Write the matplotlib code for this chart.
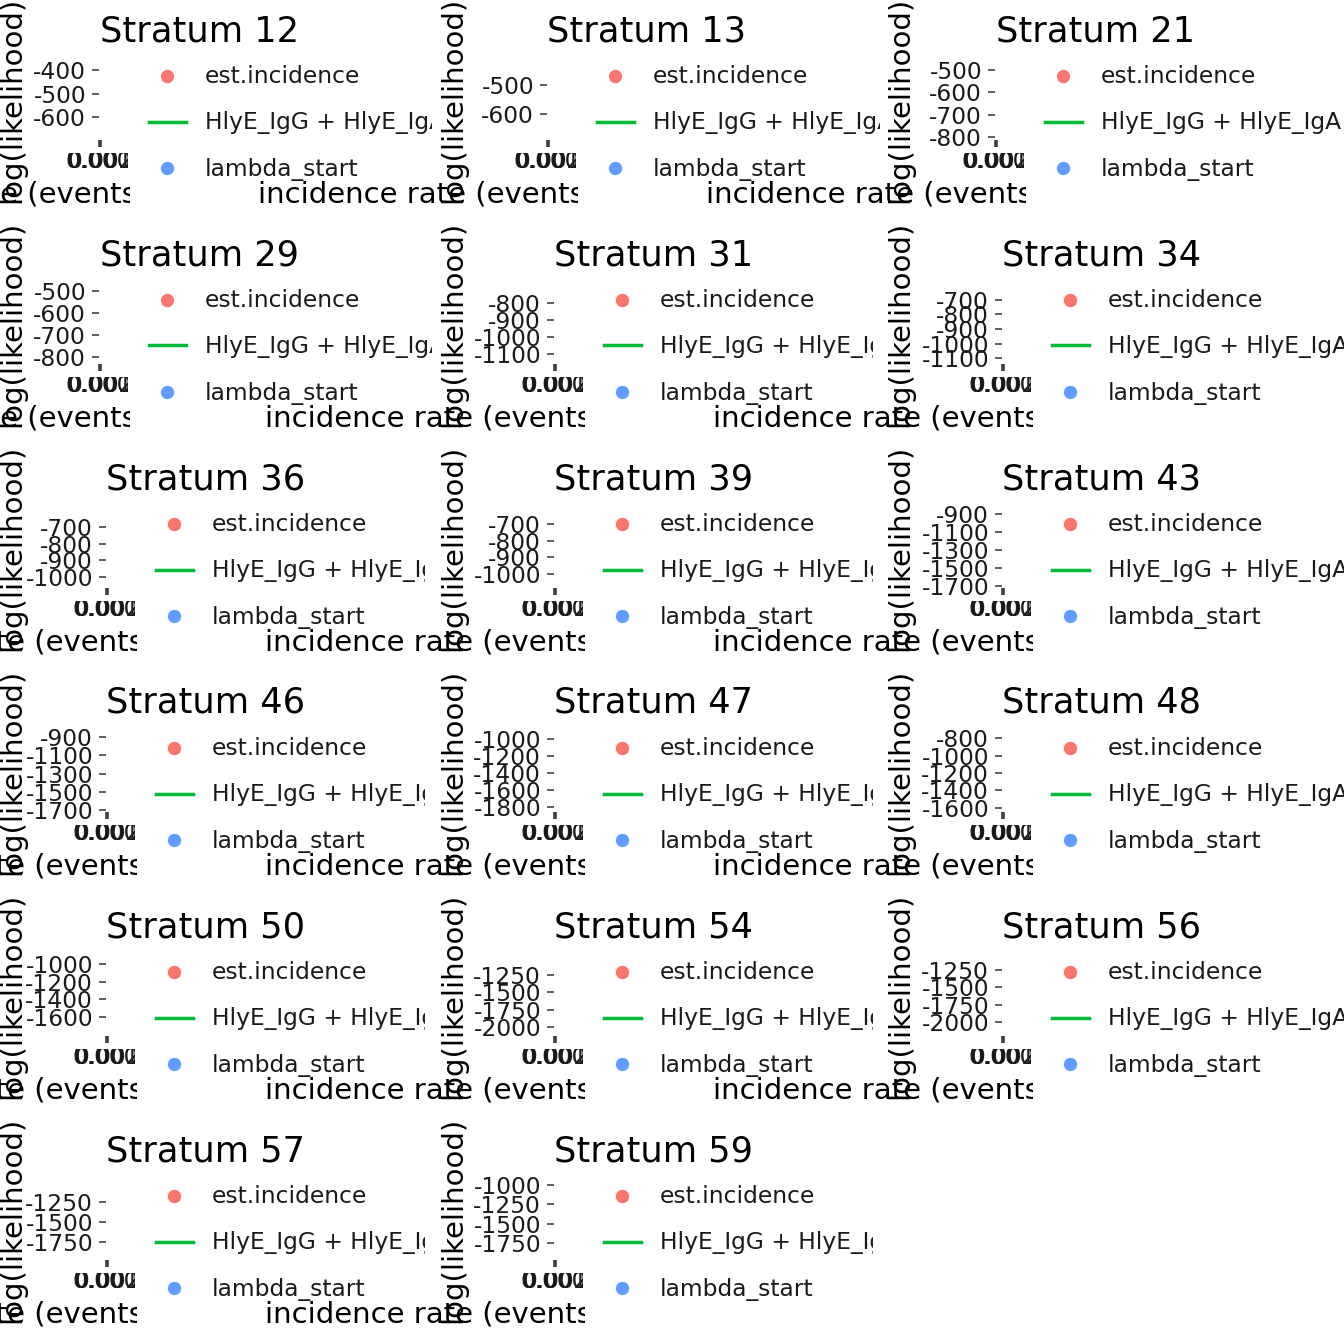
import matplotlib
matplotlib.use("Agg")
import matplotlib.pyplot as plt
from matplotlib.lines import Line2D
from matplotlib.transforms import Bbox, TransformedBbox

plt.rcParams['font.family'] = ['DejaVu Sans']
plt.rcParams['axes.unicode_minus'] = False

# one panel per stratum, log(likelihood) range shown on each y axis
strata = [12, 13, 21, 29, 31, 34, 36, 39, 43, 46, 47, 48, 50, 54, 56, 57, 59]
loglik_top = [-357, -414, -455, -468, -688, -590, -586, -604, -833,
              -845, -918, -731, -909, -976, -1048, -975, -935]
loglik_bottom = [-698, -690, -813, -832, -1159, -1141, -1066, -1084, -1722,
                 -1722, -1859, -1646, -1815, -2130, -2202, -1975, -1970]
y_ticks = [
    [-400, -500, -600],
    [-500, -600],
    [-500, -600, -700, -800],
    [-500, -600, -700, -800],
    [-800, -900, -1000, -1100],
    [-700, -800, -900, -1000, -1100],
    [-700, -800, -900, -1000],
    [-700, -800, -900, -1000],
    [-900, -1100, -1300, -1500, -1700],
    [-900, -1100, -1300, -1500, -1700],
    [-1000, -1200, -1400, -1600, -1800],
    [-800, -1000, -1200, -1400, -1600],
    [-1000, -1200, -1400, -1600],
    [-1250, -1500, -1750, -2000],
    [-1250, -1500, -1750, -2000],
    [-1250, -1500, -1750],
    [-1000, -1250, -1500, -1750],
]
x_ticks = [0.000, 0.001, 0.002]
x_labels = ["0.000", "0.001", "0.002"]

legend_labels = ["est.incidence", "HlyE_IgG + HlyE_IgA", "lambda_start"]
legend_colors = ["#F8766D", "#00BA38", "#619CFF"]
legend_kinds = ["point", "line", "point"]

xlab = "incidence rate (events / person-year)"
ylab = "log(likelihood)"

W = H = 1344
fig = plt.figure(figsize=(13.44, 13.44), dpi=100)

def fx(x):
    return x / W

def fy(y):
    return 1 - y / H

def clip(x0, y0, x1, y1):
    return TransformedBbox(Bbox.from_extents(fx(x0), fy(y1), fx(x1), fy(y0)), fig.transFigure)

col_base = [100, 548, 996]
ylab_x = [20, 461, 908]
ylab_clip = [0, 441, 888]
txt = "#1a1a1a"
fs = 16.8

for i, s in enumerate(strata):
    r, c = divmod(i, 3)
    y0 = r * 224
    wide = max(len(str(t)) for t in y_ticks[i]) >= 5
    px = col_base[c] + (7 if wide else 0)

    ax = fig.add_axes([fx(px - 1), fy(y0 + 140), fx(2), 80 / H])
    ax.set_facecolor("none")
    for sp in ax.spines.values():
        sp.set_visible(False)
    ax.set_ylim(loglik_bottom[i], loglik_top[i])
    ax.set_yticks(y_ticks[i])
    ax.set_yticklabels([str(t) for t in y_ticks[i]])
    ax.set_xlim(x_ticks[0], x_ticks[-1])
    ax.set_xticks(x_ticks)
    ax.set_xticklabels(x_labels)
    ax.tick_params(axis="y", length=5, width=1.1, pad=4.3, labelsize=fs,
                   color="#333333", labelcolor=txt)
    ax.tick_params(axis="x", length=5, width=1.1, pad=2, labelsize=fs,
                   color="#333333", labelcolor=txt)
    cb = clip(px - 80, y0 + 153, px + 28, y0 + 180)
    for lab in ax.get_xticklabels():
        lab.set_clip_box(cb)
        lab.set_clip_on(True)

    # title
    fig.text(fx(px + 99), fy(y0 + 41), f"Stratum {s}", fontsize=25.3,
             ha="center", va="baseline", color="black")

    # axis titles, clipped like the squeezed panels
    t = fig.text(fx(px - 290), fy(y0 + 203), xlab, fontsize=21,
                 ha="left", va="baseline", color="black")
    t.set_clip_box(clip(0, y0, px + 30, y0 + 224))
    t.set_clip_on(True)

    t = fig.text(fx(ylab_x[c]), fy(y0 + 100), ylab, fontsize=21,
                 rotation=90, rotation_mode="anchor", ha="center",
                 va="baseline", color="black")
    t.set_clip_box(clip(ylab_clip[c], y0, ylab_clip[c] + 60, y0 + 230))
    t.set_clip_on(True)

    # legend
    right = W if c == 2 else col_base[c] + 332 - (px - col_base[c])
    lclip = clip(px, y0, right, y0 + 224)
    key_y = [76, 121.5, 168]
    base_y = [83, 129, 176]
    for k, (lab, colr, kind) in enumerate(zip(legend_labels, legend_colors, legend_kinds)):
        ky = fy(y0 + key_y[k])
        if kind == "point":
            fig.add_artist(Line2D([fx(px + 67)], [ky], marker="o", markersize=8.6,
                                  color=colr, linestyle="none",
                                  transform=fig.transFigure))
        else:
            fig.add_artist(Line2D([fx(px + 49), fx(px + 86)], [ky, ky], lw=2.5,
                                  color=colr, transform=fig.transFigure))
        t = fig.text(fx(px + 105), fy(y0 + base_y[k]), lab, fontsize=fs,
                     ha="left", va="baseline", color=txt)
        t.set_clip_box(lclip)
        t.set_clip_on(True)

fig.savefig("out.png", dpi=100, facecolor="white")
